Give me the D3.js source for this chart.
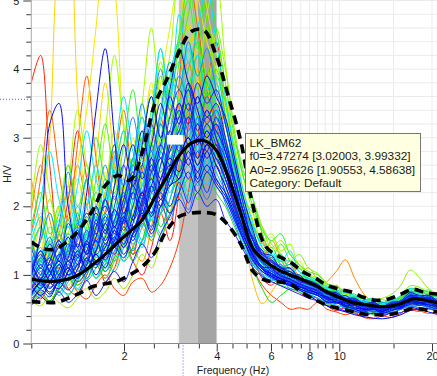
<!DOCTYPE html>
<html><head><meta charset="utf-8">
<script src="https://cdn.jsdelivr.net/npm/d3@7"></script>
<style>html,body{margin:0;padding:0;background:#fff;overflow:hidden}</style>
</head><body><svg id="c" width="437" height="376"></svg>
<script>
// ---------------- data ----------------
// frequency grid of the individual time-window curves
const freqs = [1.000,1.072,1.148,1.230,1.318,1.413,1.514,1.622,1.738,1.862,1.995,2.138,2.291,2.455,2.630,2.818,
  3.020,3.236,3.467,3.715,3.981,4.266,4.571,4.898,
  5.248,5.623,6.026,6.457,6.918,7.413,7.943,
  8.511,9.120,9.772,10.47,11.22,12.02,12.88,13.80,14.79,15.85,16.98,18.20,19.50,20.89];
// frequency grid of the average curve and its +/- std curves
const statFreqs = [1.000,1.096,1.202,1.318,1.445,1.585,1.738,1.905,2.089,2.291,2.512,2.754,3.020,3.311,3.631,3.981,4.365,4.786,5.248,5.754,6.310,6.918,7.586,8.318,9.120,10.00,10.96,12.02,13.18,14.45,15.85,17.38,19.05,20.89];
const meanHV  = [0.94,0.91,0.91,0.94,1.02,1.15,1.30,1.47,1.63,1.80,2.12,2.43,2.74,2.92,2.96,2.82,2.42,1.90,1.38,1.20,1.08,1.00,0.93,0.85,0.75,0.67,0.60,0.57,0.54,0.54,0.58,0.65,0.63,0.59];
const upperHV = [1.48,1.38,1.38,1.50,1.68,1.95,2.30,2.45,2.38,2.78,3.48,3.85,4.25,4.55,4.57,4.20,3.60,2.95,2.00,1.42,1.28,1.19,1.05,0.96,0.85,0.79,0.75,0.67,0.63,0.65,0.72,0.79,0.74,0.72];
const lowerHV = [0.61,0.60,0.60,0.66,0.74,0.83,0.87,0.91,1.00,1.12,1.32,1.65,1.85,1.90,1.91,1.88,1.72,1.45,1.05,0.92,0.90,0.87,0.74,0.64,0.56,0.51,0.47,0.43,0.42,0.42,0.46,0.51,0.49,0.46];

const w01 = [3.8,4.2,2.6,1.5,2.1,3.1,2.4,1.4,1.9,2.8,1.8,1.3,2.0,2.9,2.2,1.7, 2.6,3.4,2.7,3.8,3.0,2.4,2.0,1.6, 1.3,1.1,0.95,1.1,0.9,0.85,0.8, 0.78,0.62,0.68,0.56,0.5,0.54,0.46,0.5,0.55,0.5,0.66,0.6,0.52,0.56];
const w02 = [0.8,0.65,0.9,1.1,0.8,0.7,1.0,1.3,0.9,1.1,1.5,1.2,1.0,1.4,1.9,1.5, 2.2,3.2,4.6,3.9,4.4,3.3,2.5,1.8, 1.3,0.95,0.85,1.0,0.9,0.75,0.68, 0.66,0.55,0.48,0.52,0.44,0.4,0.45,0.42,0.46,0.56,0.5,0.47,0.52,0.46];
const w03 = [0.9,0.7,0.62,0.8,0.95,0.75,0.65,0.85,1.0,0.8,0.7,0.9,0.95,0.75,0.85,1.1, 1.5,2.2,3.0,3.6,3.2,2.6,2.0,1.6, 1.1,0.85,0.7,0.6,0.5,0.52,0.5, 0.6,0.5,0.46,0.42,0.45,0.38,0.36,0.4,0.38,0.44,0.52,0.48,0.44,0.47];
const w04 = [1.6,2.4,3.4,2.5,1.8,2.9,3.9,2.7,1.9,2.6,3.4,2.3,1.8,2.5,3.3,2.6, 3.8,5.4,4.6,3.7,3.2,2.9,2.4,1.9, 1.7,1.5,1.2,1.0,1.05,0.9,0.82, 0.8,0.68,0.85,0.66,0.58,0.62,0.54,0.6,0.56,0.7,0.76,0.64,0.68,0.6];
const w05 = [1.9,2.6,1.8,1.4,1.9,2.6,2.0,1.6,2.2,2.9,2.2,1.8,2.5,3.1,2.5,2.9, 3.5,4.1,3.4,3.0,2.6,2.4,2.1,2.0, 1.6,1.25,1.1,1.05,1.2,0.95,0.85, 0.84,0.7,0.64,0.7,0.6,0.52,0.56,0.5,0.56,0.62,0.6,0.68,0.6,0.55];
const w06 = [0.7,0.9,1.3,1.0,0.8,1.1,1.6,1.2,0.95,1.3,1.8,1.4,1.2,1.7,2.4,1.9, 2.6,3.4,4.0,3.2,3.8,3.0,2.3,1.7, 1.3,1.2,1.5,1.25,1.0,0.95,0.85, 0.8,0.9,1.05,1.22,0.95,0.72,0.6,0.55,0.56,0.6,0.62,0.6,0.56,0.54];
const w07 = [2.4,1.7,1.2,1.6,2.3,1.7,1.2,1.5,2.2,2.8,2.0,1.6,2.1,2.8,2.2,2.6, 3.2,2.8,3.8,3.3,2.9,2.6,2.2,1.9, 2.0,1.6,1.2,1.0,0.95,1.0,1.1, 0.92,0.78,0.7,0.64,0.66,0.58,0.54,0.58,0.6,0.56,0.64,0.74,0.64,0.58];
const w08 = [1.0,0.75,0.9,1.3,1.0,0.85,1.15,1.7,1.3,1.1,1.6,2.3,1.7,1.5,2.2,2.7, 2.3,2.9,3.5,2.8,3.2,2.6,2.0,1.6, 0.9,0.58,0.75,0.95,1.1,0.88,0.8, 0.7,0.74,0.62,0.58,0.62,0.52,0.5,0.54,0.5,0.6,0.58,0.64,0.6,0.52];
const w09 = [1.2,1.8,3.0,5.6,6.0,3.6,2.0,2.7,3.8,2.6,1.8,2.4,3.3,2.5,2.0,2.8, 3.6,4.7,3.9,3.1,3.6,2.8,2.2,1.7, 1.35,1.2,1.0,1.1,0.88,0.85,0.8, 0.76,0.64,0.68,0.58,0.52,0.56,0.48,0.5,0.56,0.52,0.66,0.58,0.6,0.54];
const w10 = [0.9,1.3,1.9,1.4,1.8,2.6,3.4,4.6,5.8,5.2,3.1,2.2,2.9,3.8,2.8,3.4, 4.4,5.6,4.8,3.8,3.2,3.6,2.7,2.0, 1.6,1.3,1.2,1.05,1.15,0.95,0.85, 0.8,0.7,0.72,0.6,0.6,0.54,0.58,0.5,0.56,0.64,0.66,0.7,0.6,0.62];
const w11 = [1.5,1.1,1.4,2.0,2.6,1.8,1.3,1.8,2.5,1.7,2.2,3.0,2.3,2.9,3.8,4.6, 5.4,5.8,5.1,4.4,4.0,3.4,2.7,2.1, 1.7,1.4,1.2,1.1,1.0,0.95,0.88, 0.86,0.72,0.66,0.7,0.58,0.6,0.52,0.58,0.54,0.62,0.72,0.64,0.66,0.58];
const w12 = [0.62,0.55,0.7,0.6,0.52,0.66,0.8,0.65,0.75,0.95,0.8,1.0,1.3,1.1,1.5,1.9, 2.4,2.9,3.3,3.0,2.6,2.3,1.9,1.5, 1.2,1.05,0.95,0.9,0.85,0.8,0.75, 0.7,0.6,0.64,0.54,0.5,0.52,0.46,0.48,0.5,0.56,0.54,0.6,0.52,0.5];
const w13 = [1.3,1.9,1.4,1.1,1.6,2.4,1.8,1.5,2.2,3.1,2.4,2.0,2.8,3.7,2.9,3.6, 4.5,5.2,5.8,4.9,4.2,3.5,2.8,2.2, 1.8,1.45,1.55,1.3,1.1,1.2,0.98, 0.9,0.84,0.74,0.72,0.64,0.66,0.58,0.6,0.58,0.68,0.7,0.78,0.7,0.64];
const w14 = [0.75,0.95,1.3,1.0,0.85,1.2,1.6,1.2,1.5,2.1,1.6,1.9,2.6,2.0,2.5,3.1, 2.7,3.6,4.3,3.7,4.5,3.6,2.9,2.2, 1.6,1.3,1.15,1.05,1.0,0.95,0.88, 0.78,0.7,0.72,0.6,0.62,0.54,0.56,0.5,0.58,0.56,0.68,0.62,0.64,0.56];
const w15 = [2.0,2.9,2.2,1.6,2.3,3.4,2.6,2.2,3.1,4.2,3.2,2.6,3.5,4.6,3.6,4.2, 5.4,4.6,3.9,4.8,5.3,4.1,3.1,2.4, 1.9,1.5,1.6,1.35,1.45,1.1,1.0, 0.96,0.82,0.84,0.72,0.7,0.6,0.66,0.58,0.64,0.66,0.78,0.72,0.74,0.66];
const w16 = [1.1,1.5,2.1,1.6,1.3,1.8,2.6,2.0,1.6,2.3,3.1,2.4,2.0,2.8,3.6,2.9, 3.6,4.3,3.7,4.6,3.9,3.2,2.6,2.1, 1.9,1.7,1.45,1.3,1.2,1.3,1.1, 1.02,0.88,0.8,0.78,0.68,0.7,0.6,0.64,0.6,0.7,0.84,0.82,0.74,0.72];
const w17 = [0.7,0.9,0.8,1.05,1.4,1.1,0.95,1.3,1.8,1.4,1.6,2.0,1.7,2.2,2.8,2.4, 3.0,3.6,3.2,3.9,3.5,2.9,2.4,1.8, 1.4,1.2,1.08,1.0,0.94,0.88,0.82, 0.74,0.72,0.64,0.64,0.56,0.58,0.5,0.54,0.52,0.6,0.6,0.66,0.56,0.58];
const w18 = [1.5,1.2,1.5,2.0,1.5,1.3,1.7,2.4,3.2,2.4,2.0,2.7,2.3,3.0,3.9,3.2, 4.1,4.8,5.5,4.7,4.2,3.5,2.8,2.1, 1.7,1.4,1.25,1.45,1.2,1.05,0.95, 0.88,0.76,0.78,0.68,0.66,0.6,0.64,0.56,0.62,0.64,0.76,0.72,0.68,0.7];
const w19 = [0.85,1.2,1.7,1.3,1.0,1.35,1.9,1.5,1.2,1.7,2.3,1.8,2.4,3.2,4.1,3.4, 3.1,3.7,3.3,3.8,4.6,4.0,3.1,2.4, 2.1,1.7,1.4,1.5,1.3,1.15,1.0, 0.92,0.84,0.78,0.72,0.68,0.65,0.63,0.66,0.72,0.85,1.07,0.96,0.8,0.72];
const w20 = [1.3,1.7,1.3,1.0,1.3,1.8,1.4,1.2,1.6,2.2,1.8,2.4,3.1,2.5,3.0,3.8, 4.5,5.2,4.4,3.6,3.0,2.7,2.9,2.5, 2.1,1.6,1.3,1.15,1.05,1.0,0.95, 0.9,0.78,0.76,0.66,0.68,0.58,0.6,0.55,0.6,0.62,0.74,0.68,0.7,0.6];
const w21 = [1.0,1.35,1.0,1.25,1.8,1.35,1.6,2.2,1.7,1.5,2.0,2.7,2.1,2.5,3.2,2.7, 3.4,4.0,4.4,3.8,3.4,3.0,2.5,2.0, 1.6,1.3,1.4,1.15,1.02,1.1,0.9, 0.84,0.74,0.72,0.62,0.64,0.56,0.58,0.52,0.6,0.6,0.72,0.66,0.68,0.6];
const w22 = [0.65,0.8,1.05,0.85,0.72,0.9,1.2,0.95,1.15,1.5,1.2,1.4,1.8,1.5,1.9,2.4, 2.8,3.3,3.0,3.6,3.1,2.6,2.1,1.6, 1.1,0.8,0.6,0.7,0.8,0.82,0.76, 0.7,0.68,0.6,0.6,0.52,0.54,0.46,0.5,0.48,0.56,0.58,0.62,0.54,0.56];
const w23 = [1.7,2.2,1.6,1.9,2.6,2.0,2.4,3.0,2.4,2.2,2.9,3.7,2.9,3.4,4.3,3.6, 4.4,5.0,4.3,5.3,4.6,3.8,3.0,2.4, 2.0,1.65,1.5,1.6,1.3,1.15,1.05, 1.0,0.86,0.84,0.74,0.72,0.64,0.66,0.6,0.64,0.66,0.8,0.74,0.78,0.66];
const w24 = [0.6,0.75,0.62,0.85,1.1,0.85,1.0,1.3,1.05,1.25,1.6,1.3,1.5,2.0,1.7,2.1, 2.5,2.9,2.6,3.2,2.8,2.3,1.9,1.6, 1.35,1.15,1.02,0.96,0.9,0.84,0.78, 0.74,0.64,0.62,0.54,0.56,0.5,0.52,0.47,0.52,0.52,0.62,0.56,0.6,0.52];
const w25 = [1.2,0.9,1.2,1.6,1.25,1.9,1.45,1.7,2.4,1.9,1.7,2.3,3.0,2.4,2.8,3.5, 3.0,3.7,4.2,3.6,4.0,3.3,2.5,1.9, 1.5,1.3,1.2,1.25,1.08,1.0,0.93, 0.88,0.78,0.76,0.66,0.66,0.58,0.6,0.54,0.62,0.62,0.8,0.78,0.7,0.68];
const w26 = [0.9,1.15,1.5,1.15,1.4,1.9,1.45,1.8,2.3,1.9,1.6,2.1,2.7,2.2,2.8,3.3, 2.9,3.5,3.2,3.9,3.4,2.9,2.3,1.8, 1.45,1.25,1.12,1.05,0.98,0.92,0.86, 0.82,0.72,0.7,0.62,0.62,0.54,0.56,0.5,0.56,0.58,0.7,0.64,0.64,0.58];
const w27 = [1.4,1.7,1.25,1.05,1.4,2.0,1.6,1.35,1.9,2.5,2.0,2.6,3.3,2.6,3.2,3.9, 4.4,3.8,3.4,3.8,3.5,3.0,2.5,2.0, 1.6,1.35,1.25,1.3,1.05,0.96,0.92, 0.86,0.76,0.74,0.66,0.65,0.58,0.6,0.54,0.6,0.62,0.72,0.68,0.68,0.62];
const w28 = [0.7,0.85,0.72,0.95,1.2,0.95,1.15,1.5,1.2,1.45,1.9,1.5,1.8,2.3,1.9,2.5, 3.1,2.8,3.3,2.9,3.2,2.7,2.1,1.7, 1.35,1.15,1.04,0.97,0.9,0.85,0.8, 0.76,0.66,0.65,0.57,0.57,0.5,0.52,0.48,0.54,0.54,0.64,0.6,0.6,0.55];
const w29 = [1.6,2.1,2.8,2.1,1.7,2.3,3.1,2.4,2.0,2.7,3.6,2.8,2.4,3.2,4.3,3.5, 4.8,4.1,4.6,5.2,4.4,3.6,2.8,2.2, 1.75,1.4,1.3,1.2,1.35,1.05,0.95, 0.9,0.8,0.78,0.68,0.68,0.6,0.63,0.57,0.63,0.64,0.77,0.72,0.73,0.64];
const w30 = [1.1,1.4,1.05,1.3,1.7,1.35,1.55,2.0,1.65,1.9,2.4,2.0,2.3,2.9,2.5,3.0, 3.4,2.9,3.5,3.1,3.3,2.8,2.3,1.8, 1.42,1.22,1.1,1.02,0.96,0.9,0.84, 0.8,0.7,0.7,0.6,0.6,0.53,0.56,0.5,0.56,0.56,0.68,0.62,0.65,0.57];
const w31 = [0.8,0.95,1.25,0.95,1.15,1.45,1.15,1.4,1.85,1.5,1.8,2.3,1.9,2.4,2.9,2.5, 2.9,3.3,2.9,3.4,3.0,2.6,2.1,1.7, 1.3,1.12,1.02,0.96,0.9,0.85,0.8, 0.76,0.68,0.66,0.58,0.58,0.52,0.54,0.48,0.54,0.55,0.65,0.61,0.62,0.55];
const w32 = [1.3,1.0,1.35,1.8,1.4,1.6,2.1,1.75,2.1,2.7,2.2,2.6,3.3,2.7,3.3,4.0, 3.5,4.3,3.7,3.3,3.8,3.2,2.6,2.0, 1.55,1.3,1.18,1.08,1.0,0.94,0.88, 0.84,0.74,0.72,0.64,0.64,0.56,0.58,0.53,0.59,0.6,0.72,0.67,0.68,0.6];
const w33 = [0.6,0.72,0.88,0.7,0.9,1.15,0.92,1.1,1.4,1.2,1.45,1.8,1.5,1.9,2.3,2.0, 2.4,2.7,2.4,2.8,2.5,2.2,1.8,1.5, 1.2,1.05,0.95,0.9,0.85,0.8,0.74, 0.7,0.62,0.6,0.52,0.52,0.47,0.48,0.44,0.5,0.5,0.59,0.56,0.57,0.5];
const w34 = [0.95,1.25,0.98,1.15,1.55,1.2,1.45,1.85,1.5,1.8,2.2,1.85,2.2,2.8,2.4,2.9, 3.3,3.0,3.6,3.2,3.4,2.9,2.3,1.8, 1.4,1.2,1.08,1.0,0.94,0.88,0.82, 0.78,0.68,0.67,0.59,0.59,0.52,0.55,0.49,0.55,0.55,0.66,0.62,0.63,0.56];
const w35 = [1.2,1.5,1.9,1.45,1.3,1.7,2.4,1.8,2.1,2.9,2.3,2.7,3.5,2.8,3.4,4.1, 3.7,4.4,3.9,4.3,3.7,3.2,2.6,2.0, 1.6,1.3,1.25,1.08,1.1,0.94,0.9, 0.86,0.76,0.74,0.65,0.65,0.58,0.6,0.54,0.61,0.62,0.74,0.68,0.7,0.61];
const w36 = [0.7,0.82,1.05,0.82,0.98,1.25,1.05,1.3,1.15,1.45,1.8,1.45,1.7,2.2,1.9,2.3, 2.7,2.4,2.9,2.6,2.8,2.4,2.0,1.6, 1.28,1.1,1.0,0.94,0.88,0.83,0.78, 0.74,0.64,0.64,0.56,0.56,0.5,0.52,0.47,0.53,0.53,0.62,0.59,0.6,0.54];
const w37 = [1.0,1.25,1.55,1.2,1.35,1.75,1.4,1.65,2.1,1.75,2.1,2.6,2.2,2.7,3.2,2.8, 3.2,3.7,3.3,3.0,3.2,2.8,2.3,1.8, 1.42,1.22,1.1,1.02,0.96,0.9,0.84, 0.8,0.7,0.69,0.6,0.6,0.54,0.56,0.5,0.56,0.57,0.67,0.63,0.64,0.57];
const w38 = [0.8,1.05,0.82,1.0,1.35,1.05,1.25,1.6,1.35,1.65,2.0,1.7,2.0,2.5,2.1,2.6, 3.0,2.7,3.2,2.9,3.1,2.7,2.2,1.75, 1.36,1.17,1.05,0.98,0.92,0.86,0.8, 0.76,0.66,0.66,0.58,0.58,0.51,0.54,0.48,0.54,0.55,0.64,0.6,0.61,0.55];
const w39 = [1.5,1.15,1.3,1.75,2.5,1.8,1.5,1.95,2.6,2.1,2.6,3.3,2.7,3.2,4.0,3.4, 3.9,3.5,3.2,3.6,3.3,2.9,2.4,1.9, 1.45,1.35,1.12,1.15,0.98,0.96,0.86, 0.84,0.74,0.72,0.64,0.64,0.57,0.58,0.53,0.59,0.6,0.72,0.68,0.68,0.6];
const w40 = [0.9,1.15,0.92,1.08,1.45,1.15,1.35,1.75,1.45,1.8,2.15,1.8,2.1,2.7,2.3,2.8, 3.1,3.5,3.0,3.3,3.1,2.8,2.3,1.8, 1.4,1.2,1.08,1.0,0.94,0.88,0.82, 0.78,0.68,0.67,0.59,0.59,0.53,0.55,0.5,0.55,0.56,0.66,0.63,0.63,0.56];
const w41 = [0.75,0.92,1.15,0.88,1.05,1.35,1.08,1.35,1.75,1.45,1.8,2.2,1.85,2.3,2.7,2.3, 2.7,3.0,2.7,3.1,2.8,2.5,2.0,1.65, 1.3,1.12,1.02,0.95,0.9,0.84,0.78, 0.74,0.65,0.64,0.56,0.56,0.5,0.52,0.47,0.53,0.53,0.63,0.6,0.6,0.54];
const w42 = [1.2,0.92,1.08,1.45,1.1,1.6,1.3,1.55,2.1,1.7,2.3,2.9,2.4,2.9,3.5,3.0, 3.5,3.2,3.6,3.3,3.5,3.0,2.4,1.9, 1.5,1.22,1.2,1.02,1.05,0.9,0.88, 0.82,0.72,0.7,0.62,0.62,0.55,0.57,0.51,0.57,0.58,0.69,0.65,0.66,0.58];
const w43 = [0.6,0.78,0.68,0.9,0.78,0.98,1.25,1.0,1.3,1.55,1.3,1.6,1.95,1.65,2.1,1.9, 2.2,2.5,2.2,2.5,2.3,2.1,1.8,1.5, 1.2,1.05,0.96,0.9,0.85,0.8,0.74, 0.7,0.61,0.61,0.53,0.53,0.48,0.5,0.45,0.5,0.51,0.59,0.56,0.57,0.51];
const w44 = [1.4,1.1,1.45,1.2,1.75,1.4,1.2,1.8,1.5,2.0,2.6,2.1,2.6,3.2,2.7,3.3, 3.7,3.4,3.8,3.5,3.7,3.2,2.6,2.0, 1.5,1.36,1.14,1.12,0.98,1.0,0.86, 0.84,0.74,0.72,0.63,0.63,0.56,0.58,0.52,0.58,0.6,0.71,0.67,0.67,0.6];
const w45 = [0.85,0.7,0.88,1.15,0.92,1.08,1.5,1.15,1.3,1.65,1.4,1.75,2.2,1.85,2.3,2.6, 2.4,2.8,2.5,2.9,2.6,2.3,1.95,1.6, 1.28,1.1,1.0,0.94,0.88,0.83,0.77, 0.73,0.64,0.63,0.55,0.55,0.5,0.51,0.47,0.52,0.52,0.61,0.58,0.59,0.53];
const w46 = [1.0,1.35,1.05,0.88,1.25,1.65,1.3,2.0,1.65,2.3,2.9,2.3,2.9,3.6,3.0,3.7, 4.3,3.8,3.5,3.9,3.6,3.3,2.7,2.1, 1.65,1.32,1.28,1.1,1.1,0.95,0.92, 0.86,0.76,0.74,0.66,0.66,0.58,0.6,0.54,0.6,0.62,0.74,0.7,0.7,0.62];
const w47 = [0.55,0.68,0.58,0.75,0.6,0.72,0.92,0.7,0.88,1.05,0.9,1.2,1.45,1.25,1.6,1.85, 2.1,1.9,2.2,2.0,2.1,1.8,1.6,1.35, 1.1,0.98,0.9,0.84,0.78,0.72,0.66, 0.62,0.55,0.54,0.47,0.47,0.42,0.44,0.4,0.45,0.45,0.53,0.5,0.51,0.46];
const w48 = [1.0,1.6,3.2,3.5,2.0,1.4,2.2,3.4,4.3,3.0,1.9,2.4,3.1,2.5,2.9,3.6, 3.2,3.8,3.4,3.0,3.2,2.8,2.4,1.9, 1.5,1.28,1.14,1.05,0.98,0.92,0.86, 0.82,0.72,0.71,0.62,0.62,0.56,0.57,0.52,0.58,0.59,0.7,0.66,0.66,0.59];
const w49 = [1.05,0.85,1.0,1.3,1.05,1.25,1.65,1.3,1.55,1.95,1.65,2.0,2.5,2.1,2.6,3.1, 2.8,3.3,2.9,3.4,3.0,2.7,2.2,1.75, 1.38,1.18,1.06,0.99,0.93,0.87,0.81, 0.77,0.68,0.67,0.59,0.58,0.52,0.54,0.49,0.55,0.56,0.66,0.62,0.62,0.56];
const w50 = [0.7,0.9,0.75,0.95,1.2,0.98,1.15,1.5,1.22,1.5,1.85,1.55,1.85,2.3,2.0,2.4, 2.7,3.0,2.6,2.9,2.7,2.4,2.0,1.6, 1.25,1.08,0.98,0.9,0.84,0.78,0.7, 0.62,0.55,0.5,0.46,0.42,0.39,0.37,0.36,0.38,0.42,0.48,0.5,0.46,0.42];
const w51 = [0.85,1.1,0.9,1.2,1.0,1.3,1.6,1.25,1.55,1.4,1.9,1.6,2.1,1.8,2.4,2.2, 2.6,2.2,2.9,2.5,3.1,2.6,2.2,1.7, 1.5,1.2,1.3,1.05,1.0,0.9,0.95, 0.8,0.66,0.74,0.6,0.52,0.6,0.5,0.55,0.5,0.62,0.7,0.6,0.56,0.64];
const w52 = [1.1,0.85,1.05,1.4,1.1,1.0,1.35,1.7,1.4,1.8,1.5,2.0,2.5,2.1,2.7,2.3, 2.8,3.4,2.7,3.1,2.6,2.9,2.3,1.9, 1.45,1.35,1.1,1.2,0.95,1.0,0.86, 0.9,0.74,0.7,0.78,0.62,0.56,0.64,0.58,0.55,0.68,0.74,0.66,0.72,0.6];
const w53 = [0.7,0.9,1.1,0.85,1.0,0.8,1.05,1.3,1.1,1.45,1.2,1.6,1.4,1.9,1.6,2.1, 2.5,2.1,2.6,2.3,2.8,2.3,1.9,1.55, 1.3,1.05,1.15,0.95,0.88,0.92,0.78, 0.72,0.6,0.66,0.52,0.5,0.46,0.52,0.44,0.5,0.56,0.52,0.6,0.5,0.54];
const w54 = [1.3,1.05,1.25,1.0,1.4,1.7,1.35,1.55,1.9,1.6,2.2,1.85,2.5,2.2,2.8,2.5, 3.1,2.7,3.3,2.9,3.2,2.7,2.4,1.85, 1.55,1.25,1.2,1.1,1.15,0.92,0.9, 0.84,0.7,0.76,0.64,0.58,0.62,0.54,0.6,0.56,0.64,0.76,0.68,0.62,0.66];
const w55 = [0.9,1.2,1.45,1.1,1.3,1.65,1.3,1.5,1.3,1.75,2.2,1.8,2.3,2.6,2.2,2.7, 3.0,3.5,3.0,2.6,3.0,2.5,2.1,1.7, 1.4,1.3,1.05,1.15,1.0,0.86,0.9, 0.76,0.82,0.66,0.7,0.56,0.62,0.52,0.56,0.6,0.56,0.66,0.72,0.62,0.58];
const w56 = [0.78,0.95,0.8,1.0,1.2,0.95,1.25,1.1,1.45,1.3,1.7,1.5,1.95,1.7,2.2,2.0, 2.35,2.05,2.5,2.2,2.6,2.2,1.85,1.5, 1.25,1.1,0.98,1.05,0.86,0.84,0.76, 0.7,0.64,0.58,0.62,0.5,0.48,0.52,0.45,0.48,0.54,0.58,0.55,0.58,0.5];
const w57 = [1.05,1.3,1.05,1.25,1.55,1.25,1.5,1.9,1.6,1.95,1.75,2.3,2.0,2.6,2.3,2.9, 3.4,2.9,3.2,2.8,3.3,2.9,2.3,1.8, 1.5,1.25,1.18,1.12,0.98,0.94,0.9, 0.8,0.74,0.66,0.7,0.6,0.54,0.58,0.52,0.58,0.6,0.7,0.64,0.68,0.6];
const w58 = [0.65,0.8,0.95,0.75,0.95,1.15,0.95,1.2,1.05,1.35,1.6,1.35,1.75,1.55,2.0,1.8, 2.2,1.95,2.35,2.1,2.4,2.05,1.75,1.4, 1.15,1.0,0.92,0.96,0.8,0.78,0.72, 0.66,0.58,0.6,0.5,0.48,0.44,0.48,0.42,0.45,0.5,0.55,0.52,0.54,0.47];
const w59 = [1.15,0.95,1.2,1.5,1.2,1.45,1.3,1.7,2.0,1.7,2.1,2.5,2.15,2.7,2.4,3.0, 3.3,3.7,3.1,3.4,3.0,2.6,2.2,1.75, 1.55,1.3,1.22,1.1,1.05,0.97,0.88, 0.86,0.72,0.7,0.64,0.64,0.56,0.6,0.54,0.56,0.62,0.68,0.7,0.64,0.62];
const w60 = [0.88,1.1,0.9,0.8,1.05,1.3,1.1,1.35,1.65,1.4,1.8,1.6,2.05,2.4,2.1,2.5, 2.9,2.6,3.0,2.7,2.9,2.5,2.05,1.65, 1.35,1.12,1.1,0.98,0.94,0.86,0.82, 0.76,0.66,0.64,0.58,0.56,0.5,0.54,0.49,0.52,0.57,0.62,0.6,0.6,0.55];
const w61 = [0.95,0.8,1.0,1.2,1.0,1.15,1.45,1.2,1.4,1.7,1.45,1.85,2.2,1.9,2.4,2.7, 2.5,2.9,2.4,2.8,2.4,2.2,1.9,1.55, 1.3,1.08,1.02,0.94,0.9,0.82,0.8, 0.72,0.68,0.6,0.6,0.52,0.5,0.5,0.47,0.52,0.54,0.6,0.6,0.56,0.54];
const w62 = [1.5,1.85,1.45,1.7,2.2,1.75,2.0,2.6,2.1,2.5,3.1,2.5,3.0,3.6,3.0,3.6, 4.1,3.6,4.2,3.7,3.9,3.3,2.7,2.1, 1.7,1.45,1.35,1.2,1.2,1.05,0.98, 0.92,0.82,0.78,0.74,0.7,0.62,0.66,0.6,0.62,0.7,0.8,0.74,0.76,0.68];
const w63 = [0.82,1.0,1.25,1.0,1.15,0.95,1.2,1.5,1.25,1.55,1.9,1.6,1.95,2.3,2.0,2.4, 2.7,2.4,2.8,2.5,2.7,2.4,2.0,1.6, 1.32,1.1,1.05,0.96,0.92,0.85,0.8, 0.7,0.78,0.62,0.66,0.52,0.56,0.46,0.52,0.56,0.5,0.64,0.7,0.58,0.6];
const w64 = [0.58,0.72,0.6,0.78,0.95,0.78,0.92,1.15,0.95,1.2,1.45,1.2,1.5,1.8,1.55,1.9, 2.1,2.4,2.1,2.5,2.2,2.0,1.7,1.4, 1.15,1.0,0.9,0.85,0.8,0.75,0.7, 0.66,0.56,0.6,0.5,0.46,0.48,0.42,0.44,0.46,0.5,0.56,0.52,0.5,0.48];
const w65 = [1.0,1.2,1.0,1.3,1.6,1.3,1.1,1.45,1.8,1.5,1.85,2.3,1.95,2.2,2.7,2.4, 2.8,3.2,2.8,3.1,2.8,2.5,2.1,1.7, 1.4,1.18,1.1,1.0,1.02,0.9,0.84, 0.82,0.7,0.68,0.62,0.6,0.56,0.56,0.5,0.55,0.6,0.66,0.62,0.64,0.58];
const w66 = [1.25,1.0,1.2,1.5,1.25,1.5,1.85,1.5,1.75,2.15,1.8,2.2,2.6,2.2,2.6,3.1, 3.5,3.1,3.6,3.2,3.4,2.9,2.4,1.9, 1.5,1.3,1.2,1.1,1.02,0.98,0.9, 0.84,0.76,0.72,0.64,0.62,0.58,0.56,0.54,0.58,0.62,0.7,0.68,0.66,0.62];
const w67 = [0.72,0.88,0.72,0.92,1.1,0.9,1.05,1.3,1.1,1.4,1.25,1.6,1.9,1.6,2.0,2.3, 2.4,2.7,2.35,2.6,2.35,2.15,1.85,1.5, 1.22,1.05,0.98,0.92,0.86,0.8,0.75, 0.7,0.6,0.6,0.54,0.5,0.46,0.5,0.44,0.48,0.52,0.57,0.58,0.54,0.5];
const w68 = [1.1,1.35,1.15,1.4,1.2,1.55,1.9,1.6,1.85,1.6,2.0,2.4,2.1,2.5,2.9,2.6, 3.0,3.3,2.9,3.2,2.9,2.6,2.15,1.75, 1.42,1.22,1.14,1.04,1.0,0.92,0.86, 0.8,0.72,0.7,0.62,0.6,0.55,0.56,0.52,0.56,0.6,0.68,0.64,0.64,0.58];
const w69 = [0.68,0.84,1.05,0.85,0.7,0.92,1.15,0.95,1.2,1.05,1.4,1.7,1.45,1.85,2.2,1.9, 2.3,2.6,2.3,2.7,2.3,2.1,1.8,1.45, 1.18,1.02,0.94,0.88,0.84,0.78,0.72, 0.66,0.6,0.56,0.52,0.48,0.46,0.44,0.46,0.44,0.5,0.54,0.56,0.52,0.5];

// drawing order (warm colours underneath, blues on top) and colour of each window
const windowSeries = [w01,w02,w03,w04,w05,w06,w07,w08,w09,w10,w11,w12,w13,w14,w15,w16,w17,w18,w19,w20,w21,w22,w23,w24,w25,
  w52,w64,w55,
  w26,w27,w28,w29,w30,w31,w32,w33,
  w51,w53,w62,w69,
  w34,w35,w36,w37,w38,w39,
  w54,w65,w58,w66,
  w40,w41,w42,w43,w44,w45,w46,w47,w48,w49,w50,
  w56,w57,w59,w60,w61,w63,w67,w68];
const windowColors = ["#ff2000","#ff1a1a","#ff3c00","#ff5a00","#ff7800","#ff8c00","#ffa000","#ffbe00","#ffd200","#f5e600",
  "#e6f000","#a0e600","#c8f000","#b4f000","#a0ff00","#82f000","#64e600","#50f000","#8cf000","#3cf03c",
  "#1ee61e","#00dc00","#32f032","#00c800","#28e628",
  "#32e632","#28dc28","#00f0b4",
  "#00f0a0","#00e6b4","#00f0c8","#00e6ff","#00e0f0","#00d2ff","#14e6e6","#00c8e6",
  "#00e6f0","#00d7f0","#00dcff","#00c8f0",
  "#00a0ff","#0096f0","#14b4ff","#2070ff","#1e64f0","#2882ff",
  "#00a0ff","#0aaaff","#2878ff","#2864ff",
  "#1428ff","#0000f0","#2810d0","#0a1edc","#1432ff","#0000dc","#1010c8","#2020ff","#0a0aff","#1e3cff","#0000ff",
  "#1432ff","#0a28f0","#1e1ee6","#2810c8","#0000ff","#1446ff","#0014e6","#1e32ff"];

const xMajorTicks = [2,4,6,8,10,20];
const xMinorTicks = [1,1.5,2.5,3,3.5,4.5,5,5.5,6.5,7,7.5,8.5,9,9.5,15];
const yMajorTicks = [0,1,2,3,4,5];
const yMinorTicks = [0.2,0.4,0.6,0.8,1.2,1.4,1.6,1.8,2.2,2.4,2.6,2.8,3.2,3.4,3.6,3.8,4.2,4.4,4.6,4.8];
const f0Band = [3.02003, 3.47274, 3.99332];
const cursorF = 3.11, cursorV = 3.56;
const markerF = [2.76, 3.12], markerV = [3.04, 2.90];
const tipLines = ["LK_BM62","f0=3.47274 [3.02003, 3.99332]","A0=2.95626 [1.90553, 4.58638]","Category: Default"];

// ---------------- drawing ----------------
const W = 437, H = 376;
const svg = d3.select('#c');
const x = d3.scaleLog().domain([1, 20]).range([31.3, 432]);
const y = d3.scaleLinear().domain([0, 5]).range([343.5, 0.5]);
const L = x(1), B = y(0);
const font = "'Liberation Sans', Arial, sans-serif";

svg.append('defs').append('clipPath').attr('id','clip')
  .append('rect').attr('x', L).attr('y', 0).attr('width', W - L).attr('height', B);

// grid
const grid = svg.append('g');
grid.selectAll('line.gx').data(xMajorTicks.concat(xMinorTicks)).join('line')
  .attr('x1', d => x(d)).attr('x2', d => x(d)).attr('y1', 0).attr('y2', B)
  .attr('stroke', '#ebebeb').attr('stroke-width', 1);
grid.selectAll('line.gy').data(yMajorTicks.concat(yMinorTicks)).join('line')
  .attr('x1', L).attr('x2', W).attr('y1', d => y(d)).attr('y2', d => y(d))
  .attr('stroke', '#ebebeb').attr('stroke-width', 1);

// f0 bands
svg.append('rect').attr('x', x(f0Band[0])).attr('y', 0)
  .attr('width', x(f0Band[1]) - x(f0Band[0])).attr('height', B).attr('fill', '#c2c2c2');
svg.append('rect').attr('x', x(f0Band[1])).attr('y', 0)
  .attr('width', x(f0Band[2]) - x(f0Band[1])).attr('height', B).attr('fill', '#a4a4a4');

// individual windows
const plot = svg.append('g').attr('clip-path', 'url(#clip)');
const wline = d3.line().x((d, i) => x(freqs[i])).y(d => y(d)).curve(d3.curveCatmullRom.alpha(0.5));
plot.selectAll('path.w').data(windowSeries).join('path')
  .attr('d', wline).attr('fill', 'none')
  .attr('stroke', (d, i) => windowColors[i]).attr('stroke-width', 1);

// statistics
const sline = d3.line().x((d, i) => x(statFreqs[i])).y(d => y(d)).curve(d3.curveCatmullRom.alpha(0.5));
plot.append('path').attr('d', sline(upperHV)).attr('fill','none').attr('stroke','#000')
  .attr('stroke-width', 3.6).attr('stroke-dasharray', '9,6');
plot.append('path').attr('d', sline(lowerHV)).attr('fill','none').attr('stroke','#000')
  .attr('stroke-width', 3.6).attr('stroke-dasharray', '9,6');
plot.append('path').attr('d', sline(meanHV)).attr('fill','none').attr('stroke','#000')
  .attr('stroke-width', 3.2);

// axes
const ax = svg.append('g').attr('transform', `translate(0,${B})`);
ax.call(d3.axisBottom(x).tickValues(xMinorTicks).tickSize(5).tickFormat(''));
const axM = svg.append('g').attr('transform', `translate(0,${B})`);
axM.call(d3.axisBottom(x).tickValues(xMajorTicks).tickSize(8).tickPadding(1).tickFormat(d3.format('d')));
const ay = svg.append('g').attr('transform', `translate(${L},0)`);
ay.call(d3.axisLeft(y).tickValues(yMinorTicks).tickSize(5).tickFormat(''));
const ayM = svg.append('g').attr('transform', `translate(${L},0)`);
ayM.call(d3.axisLeft(y).tickValues(yMajorTicks).tickSize(8).tickPadding(4).tickFormat(d3.format('d')));
svg.selectAll('.domain').remove();
svg.selectAll('.tick line').attr('stroke', '#3a3a3a');
svg.selectAll('.tick text').attr('font-family', font).attr('font-size', 11).attr('fill', '#222');
svg.append('line').attr('x1', L).attr('x2', W).attr('y1', B).attr('y2', B).attr('stroke', '#8a8a8a');
svg.append('line').attr('x1', L).attr('x2', L).attr('y1', 0).attr('y2', B).attr('stroke', '#b0b0b0');

// axis titles
svg.append('text').attr('x', 233).attr('y', 373.5).attr('text-anchor', 'middle')
  .attr('font-family', font).attr('font-size', 10.5).attr('fill', '#222').text('Frequency (Hz)');
svg.append('text').attr('transform', 'translate(11,174) rotate(-90)').attr('text-anchor', 'middle')
  .attr('font-family', font).attr('font-size', 10.5).attr('fill', '#222').text('H/V');

// cursor guides
svg.append('line').attr('x1', 0).attr('x2', L).attr('y1', y(cursorV)).attr('y2', y(cursorV))
  .attr('stroke', '#5a5aff').attr('stroke-dasharray', '1,2');
svg.append('line').attr('x1', x(cursorF)).attr('x2', x(cursorF)).attr('y1', B + 2).attr('y2', H)
  .attr('stroke', '#5a5aff').attr('stroke-dasharray', '1,2');

// small marker
svg.append('rect').attr('x', x(markerF[0])).attr('y', y(markerV[0]))
  .attr('width', x(markerF[1]) - x(markerF[0])).attr('height', y(markerV[1]) - y(markerV[0]))
  .attr('fill', '#fff');

// tooltip
const tip = svg.append('g').attr('transform', 'translate(245.5,133.5)');
tip.append('rect').attr('width', 175).attr('height', 58).attr('fill', '#ffffe1').attr('stroke', '#767676');
tip.selectAll('text').data(tipLines).join('text')
  .attr('x', 4).attr('y', (d, i) => 13 + i * 13.5)
  .attr('font-family', font).attr('font-size', 11.8).attr('fill', '#1a1a1a').text(d => d);
</script>
</body></html>
